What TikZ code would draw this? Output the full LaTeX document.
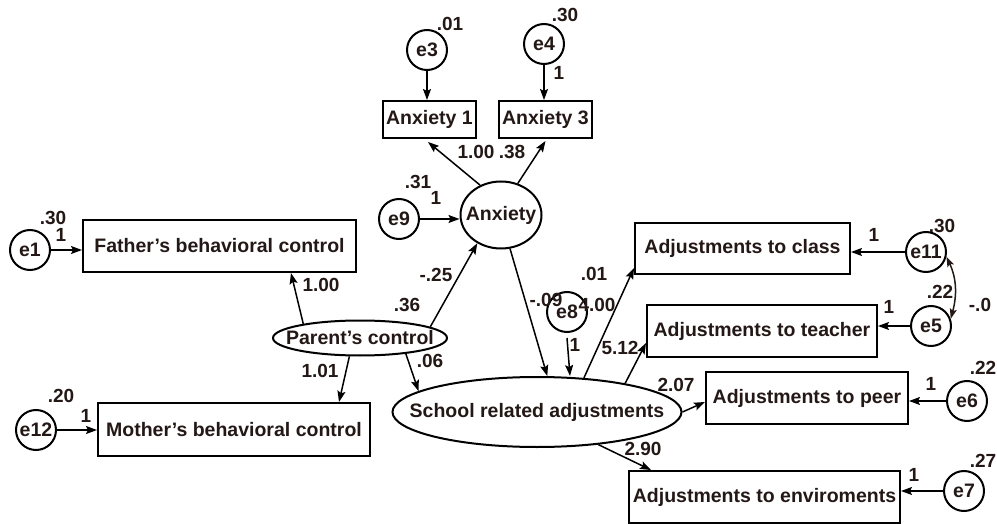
\documentclass[tikz,border=0pt]{standalone}
\usepackage{fontspec}
\setmainfont{Liberation Sans}
\usetikzlibrary{shapes.geometric,arrows.meta,calc}
\definecolor{ink}{HTML}{231815}
\begin{document}
\begin{tikzpicture}[x=1pt,y=-1pt,
  txt/.style={font=\fontsize{19.5}{21}\selectfont\bfseries,text=ink},
  lab/.style={font=\fontsize{19}{20}\selectfont\bfseries,text=ink,inner sep=0pt},
  obs/.style={txt,draw,line width=2pt,inner sep=0pt},
  lat/.style={txt,draw,ellipse,line width=2pt,inner sep=0pt},
  err/.style={txt,draw,circle,line width=2pt,inner sep=0pt,minimum size=40pt},
  arr/.style={line width=1.5pt,-{Stealth[length=11pt,width=8pt,inset=2pt]}},
  cov/.style={line width=1.5pt,draw=ink,{Stealth[length=10pt,width=7pt,inset=2pt]}-{Stealth[length=10pt,width=7pt,inset=2pt]}}
]
\useasboundingbox (0,0) rectangle (997,524);
% observed
\node[obs,minimum width=273pt,minimum height=52pt] (father) at (219.5,246) {Father’s behavioral control};
\node[obs,minimum width=272pt,minimum height=53pt] (mother) at (234,429.5) {Mother’s behavioral control};
\node[obs,minimum width=93pt,minimum height=37pt] (anx1) at (429.5,119.5) {Anxiety 1};
\node[obs,minimum width=93pt,minimum height=37pt] (anx3) at (545.5,119.5) {Anxiety 3};
\node[obs,minimum width=215pt,minimum height=51pt] (class) at (742.5,248.5) {Adjustments to class};
\node[obs,minimum width=230pt,minimum height=52pt] (teacher) at (762,331) {Adjustments to teacher};
\node[obs,minimum width=202pt,minimum height=52pt] (peer) at (807,398) {Adjustments to peer};
\node[obs,minimum width=271pt,minimum height=52pt] (env) at (764.5,497) {Adjustments to enviroments};
% latent
\node[lat,minimum width=174pt,minimum height=35pt] (parent) at (360,338) {\makebox[0pt]{Parent’s control}};
\node[lat,minimum width=81pt,minimum height=67pt] (anxiety) at (501,215) {\makebox[0pt]{Anxiety}};
\node[lat,minimum width=289pt,minimum height=70pt] (school) at (537,412) {\makebox[0pt]{School related adjustments}};
% errors
\node[err] (e1) at (30,250) {e1};
\node[err] (e12) at (36,430) {e12};
\node[err] (e9) at (399,219) {e9};
\node[err] (e3) at (427,50) {e3};
\node[err] (e4) at (544,44) {e4};
\node[err] (e8) at (567,312) {e8};
\node[err] (e11) at (926,252) {e11};
\node[err] (e5) at (931,326) {e5};
\node[err] (e6) at (967,401) {e6};
\node[err] (e7) at (964,491) {e7};
% error arrows
\draw[arr] (e1.east) -- (e1.east -| father.west);
\draw[arr] (e12.east) -- (e12.east -| mother.west);
\draw[arr] (e9.east) -- (e9.east -| anxiety.west);
\draw[arr] (e3.south) -- (e3.south |- anx1.north);
\draw[arr] (e4.south) -- (e4.south |- anx3.north);
\draw[arr] ([yshift=-5pt]e8.south) -- ([xshift=3pt]e8.south |- school.north);
\draw[arr] (e11.west) -- (e11.west -| class.east);
\draw[arr] (e5.west) -- (e5.west -| teacher.east);
\draw[arr] (e6.west) -- (e6.west -| peer.east);
\draw[arr] (e7.west) -- (e7.west -| env.east);
\draw[cov] (e11.-13) to[out=-65,in=75] (e5.20);
% structural
\draw[arr] (parent.166) -- ([xshift=71.5pt]father.south);
\draw[arr] (parent.240) -- ([xshift=105pt]mother.north);
\draw[arr] (parent.9) -- (anxiety.230);
\draw[arr] (parent.-19.5) -- (school.170.6);
\draw[arr] (anxiety.125) -- ([xshift=-1.5pt,yshift=-3pt]anx1.south);
\draw[arr] (anxiety.62) -- ([yshift=-2pt]anx3.south);
\draw[arr] (anxiety.-75) -- (school.74);
\draw[arr] (school.36.4) -- ([yshift=7pt]class.south west);
\draw[arr] (school.18.1) -- ([yshift=15pt]teacher.south west);
\draw[arr] (school.east) -- ([yshift=-4pt]peer.west);
\draw[arr] (school.-28.9) -- ([xshift=23pt]env.north west);
% labels
\node[lab] (l1) at (53,218) {.30};
\node[lab] (l2) at (61,235) {1};
\node[lab] (l3) at (321,285) {1.00};
\node[lab] (l4) at (407,305) {.36};
\node[lab] (l5) at (436,275) {-.25};
\node[lab] (l6) at (320,371) {1.01};
\node[lab] (l7) at (61,396) {.20};
\node[lab] (l8) at (86,416) {1};
\node[lab] (l9) at (430,361) {.06};
\node[lab] (l10) at (450,24) {.01};
\node[lab] (l11) at (565,15) {.30};
\node[lab] (l12) at (559,73) {1};
\node[lab] (l13) at (476,152) {1.00};
\node[lab] (l14) at (512,152) {.38};
\node[lab] (l15) at (418,182) {.31};
\node[lab] (l16) at (436,198) {1};
\node[lab] (l17) at (546,300) {-.09};
\node[lab] (l18) at (597,305) {4.00};
\node[lab] (l19) at (594,274) {.01};
\node[lab] (l20) at (575,345) {1};
\node[lab] (l21) at (620,348) {5.12};
\node[lab] (l22) at (676,385) {2.07};
\node[lab] (l23) at (643,449) {2.90};
\node[lab] (l24) at (942,226) {.30};
\node[lab] (l25) at (874,235) {1};
\node[lab] (l26) at (940,292) {.22};
\node[lab] (l27) at (980,305) {-.0};
\node[lab] (l28) at (889,307) {1};
\node[lab] (l29) at (983,368) {.22};
\node[lab] (l30) at (931,384) {1};
\node[lab] (l31) at (983,461) {.27};
\node[lab] (l32) at (914,475) {1};
\end{tikzpicture}
\end{document}
